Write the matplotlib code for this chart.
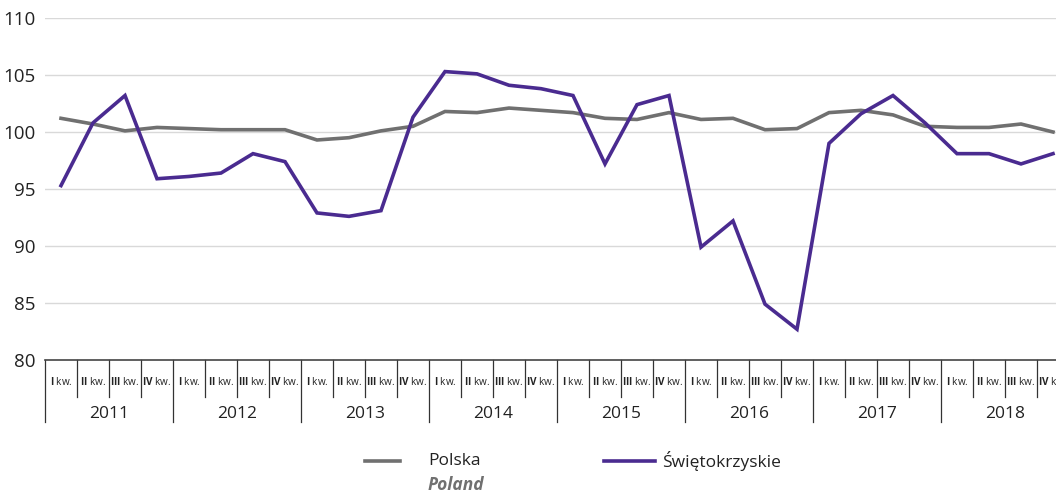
import matplotlib
matplotlib.use("Agg")
import matplotlib.pyplot as plt
from matplotlib.lines import Line2D

years = ["2011", "2012", "2013", "2014", "2015", "2016", "2017", "2018"]
quarters = ["I", "II", "III", "IV"]
polska = [101.2, 100.7, 100.1, 100.4, 100.3, 100.2, 100.2, 100.2,
          99.3, 99.5, 100.1, 100.5, 101.8, 101.7, 102.1, 101.9,
          101.7, 101.2, 101.1, 101.7, 101.1, 101.2, 100.2, 100.3,
          101.7, 101.9, 101.5, 100.5, 100.4, 100.4, 100.7, 100.0]
swietokrzyskie = [95.3, 100.8, 103.2, 95.9, 96.1, 96.4, 98.1, 97.4,
                  92.9, 92.6, 93.1, 101.3, 105.3, 105.1, 104.1, 103.8,
                  103.2, 97.2, 102.4, 103.2, 89.9, 92.2, 84.9, 82.7,
                  99.0, 101.6, 103.2, 100.8, 98.1, 98.1, 97.2, 98.1]
yticks = [80, 85, 90, 95, 100, 105, 110]

FONT = "Open Sans"
plt.rcParams["mathtext.fontset"] = "custom"
plt.rcParams["mathtext.bf"] = "Open Sans:bold"
plt.rcParams["mathtext.rm"] = "Open Sans"

W, H = 1056, 493
fig = plt.figure(figsize=(W / 100, H / 100), dpi=100)
ax = fig.add_axes([45 / W, (H - 360) / H, 1024 / W, 342 / H])

n = len(polska)
xs = [i + 0.5 for i in range(n)]
ax.plot(xs, polska, color="#707070", lw=2.6, solid_joinstyle="miter", zorder=3)
ax.plot(xs, swietokrzyskie, color="#4a2b90", lw=2.6, solid_joinstyle="miter", zorder=4)

ax.set_xlim(0, n)
ax.set_ylim(80, 110)
ax.set_yticks(yticks)
ax.set_yticklabels([str(v) for v in yticks], fontsize=13.5, family=FONT, color="#222222")
ax.tick_params(axis="y", length=0, pad=7)
ax.set_xticks([])
for v in yticks[1:]:
    ax.axhline(v, color="#d9d9d9", lw=1.0, zorder=1)
for s in ["top", "right", "left"]:
    ax.spines[s].set_visible(False)
ax.spines["bottom"].set_color("#444444")
ax.spines["bottom"].set_linewidth(1.2)

tr = ax.get_xaxis_transform()
for i in range(n + 1):
    bottom = -0.181 if i % 4 == 0 else -0.108
    ax.plot([i, i], [0, bottom], transform=tr, color="#333333", lw=0.9, clip_on=False)
for i in range(n):
    q = quarters[i % 4]
    ax.text(i + 0.5, -0.063, r"$\mathbf{" + q + "}$ kw.", transform=tr, ha="center", va="center",
            fontsize=7.2, family=FONT, color="#222222", clip_on=False)
for k, y in enumerate(years):
    ax.text(4 * k + 2, -0.157, y, transform=tr, ha="center", va="center",
            fontsize=12.5, family=FONT, color="#222222", clip_on=False)

# legend
ly = 1 - 461 / H
fig.add_artist(Line2D([365 / W, 400 / W], [ly, ly], color="#707070", lw=2.6))
fig.text(428 / W, ly, "Polska", fontsize=12.5, family=FONT, color="#222222", va="center")
fig.text(428 / W, 1 - 485 / H, "Poland", fontsize=12.5, family=FONT, color="#707070",
         va="center", style="italic", weight="bold")
fig.add_artist(Line2D([604 / W, 655 / W], [ly, ly], color="#4a2b90", lw=2.6))
fig.text(662 / W, ly, "Świętokrzyskie", fontsize=12.5, family=FONT, color="#222222", va="center")

fig.savefig("out.png", dpi=100)
